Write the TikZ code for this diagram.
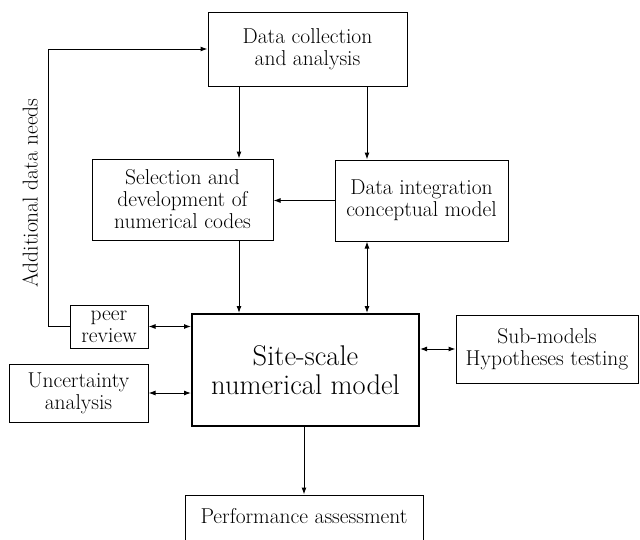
\documentclass[tikz,border=0pt]{standalone}
\usetikzlibrary{arrows.meta}
\begin{document}
\begin{tikzpicture}[x=1pt,y=-1pt,
    box/.style={draw,line width=1pt,inner sep=0pt,align=center,font=\fontsize{21.5}{22}\selectfont},
    arr/.style={line width=1pt,-{Latex[length=7pt,width=5pt]}},
    dblarr/.style={line width=1pt,{Latex[length=7pt,width=5pt]}-{Latex[length=7pt,width=5pt]}}]
  \useasboundingbox (0,0) rectangle (640,539);
  \node[box,minimum width=199pt,minimum height=74pt] (dc) at (307.5,49) {Data collection\\and analysis};
  \node[box,minimum width=181pt,minimum height=81pt] (sel) at (182.5,199.5) {Selection and\\development of\\numerical codes};
  \node[box,minimum width=173pt,minimum height=81pt] (integ) at (421.5,200.5) {Data integration\\conceptual model};
  \node[box,minimum width=78pt,minimum height=43pt] (peer) at (109,326.5) {peer\\review};
  \node[box,line width=2pt,minimum width=227pt,minimum height=112pt,font=\fontsize{28.5}{29}\selectfont] (main) at (305.5,370) {Site-scale\\numerical model};
  \node[box,minimum width=139pt,minimum height=58pt] (unc) at (78.5,393) {Uncertainty\\analysis};
  \node[box,minimum width=182pt,minimum height=68pt] (sub) at (547,349) {Sub-models\\Hypotheses testing};
  \node[box,minimum width=238pt,minimum height=50pt,text depth=8pt] (perf) at (304,520) {Performance assessment};
  \node[rotate=90,font=\fontsize{21.5}{22}\selectfont] (need) at (30,193) {Additional data needs};
  % connectors
  \coordinate (xl) at (239,0);
  \coordinate (xr) at (367,0);
  \coordinate (fb) at (48,0);
  \draw[arr] (dc.south -| xl) -- (sel.north -| xl);
  \draw[arr] (dc.south -| xr) -- (integ.north -| xr);
  \draw[arr] (integ.west) -- (integ.west -| sel.east);
  \draw[arr] (sel.south -| xl) -- (main.north -| xl);
  \draw[dblarr] (integ.south -| xr) -- (main.north -| xr);
  \draw[dblarr] (peer.east) -- (peer.east -| main.west);
  \draw[dblarr] (unc.east) -- (unc.east -| main.west);
  \draw[dblarr] (sub.west -| main.east) -- (sub.west);
  \draw[arr] (main.south -| perf.north) -- (perf.north);
  \draw[arr] (peer.west) -- (peer.west -| fb) -- (fb |- dc.west) -- (dc.west);
\end{tikzpicture}
\end{document}
